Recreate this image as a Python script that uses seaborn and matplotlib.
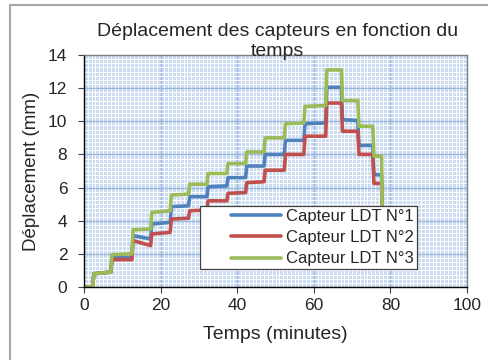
import numpy as np
import pandas as pd
import matplotlib
matplotlib.use('Agg')
import matplotlib.pyplot as plt
from matplotlib.patches import Rectangle
import seaborn as sns

# =============================================================================
# DATA
# =============================================================================

# time in minutes: start / end of every loading step
temps = [0, 2.2, 2.6, 7.0, 7.3, 12.5, 12.8, 17.4, 17.7, 22.5, 22.8, 27.3,
         27.6, 32.1, 32.4, 37.3, 37.6, 42.2, 42.5, 47.0, 47.3, 52.3, 52.6,
         57.4, 57.7, 63.1, 63.4, 67.2, 67.5, 71.5, 71.8, 75.4, 75.7, 77.7, 77.9]

ldt1 = [0, 0, 0.8, 0.9, 1.8, 1.75, 3.1, 2.9, 3.8, 3.9, 4.85, 4.9, 5.45, 5.45,
        6.05, 6.1, 6.6, 6.6, 7.3, 7.3, 8.0, 8.0, 8.85, 8.85, 9.85, 9.9, 12.05,
        12.05, 10.1, 10.05, 8.55, 8.55, 6.8, 6.75, 3.0]

ldt2 = [0, 0, 0.8, 0.9, 1.65, 1.65, 2.8, 2.5, 3.2, 3.3, 4.1, 4.15, 4.6, 4.65,
        5.2, 5.2, 5.65, 5.7, 6.3, 6.35, 7.05, 7.05, 8.0, 8.0, 9.1, 9.1, 11.1,
        11.1, 9.4, 9.4, 8.0, 8.0, 6.25, 6.25, 3.0]

ldt3 = [0, 0, 0.8, 0.9, 1.95, 2.0, 3.45, 3.5, 4.5, 4.6, 5.55, 5.6, 6.2, 6.2,
        6.85, 6.85, 7.45, 7.45, 8.15, 8.15, 9.0, 9.0, 9.85, 9.9, 10.9, 10.95,
        13.1, 13.1, 11.25, 11.25, 9.7, 9.7, 7.9, 7.9, 3.0]

series_names = ['Capteur LDT N°1', 'Capteur LDT N°2', 'Capteur LDT N°3']
colors = ['#4F81BD', '#C0504D', '#9BBB59']

x_ticks = [0, 20, 40, 60, 80, 100]
y_ticks = [0, 2, 4, 6, 8, 10, 12, 14]

# long form table for seaborn
df = pd.concat([
    pd.DataFrame({'Temps': temps, 'Deplacement': vals, 'Capteur': name})
    for vals, name in zip([ldt1, ldt2, ldt3], series_names)
], ignore_index=True)

# =============================================================================
# PLOT
# =============================================================================
sns.set_style('white')
plt.rcParams['font.family'] = ['Liberation Sans', 'DejaVu Sans']

fig = plt.figure(figsize=(4.89, 3.6), dpi=100)
ax = fig.add_axes([84 / 489, 73 / 360, 383 / 489, 232 / 360])

# Excel-like patterned plot area
ax.set_facecolor('#cbdbf2')
ax.set_xticks(np.arange(0, 100.1, 1), minor=True)
ax.set_yticks(np.arange(0, 14.01, 0.25), minor=True)
ax.grid(which='minor', color='white', lw=0.7)
ax.grid(which='major', color='#9bb9de', lw=0.9)
ax.tick_params(which='minor', length=0)
ax.set_axisbelow(True)

sns.lineplot(data=df, x='Temps', y='Deplacement', hue='Capteur',
             palette=colors, estimator=None, sort=False, lw=2.6, ax=ax)

ax.set_xlim(0, 100)
ax.set_ylim(0, 14)
ax.set_xticks(x_ticks)
ax.set_yticks(y_ticks)
ax.tick_params(which='major', direction='out', length=4, width=0.8,
               color='#404040', labelsize=12.5)
ax.tick_params(axis='x', bottom=True, pad=4)
ax.tick_params(axis='y', left=True, pad=8)

for side in ['left', 'bottom']:
    ax.spines[side].set_color('black')
    ax.spines[side].set_linewidth(1.0)
for side in ['top', 'right']:
    ax.spines[side].set_color('#808080')
    ax.spines[side].set_linewidth(1.0)

ax.set_xlabel('Temps (minutes)', fontsize=14, labelpad=9)
ax.set_ylabel('Déplacement (mm)', fontsize=13.5, labelpad=6)

fig.text(0.567, 1 - 31 / 360, 'Déplacement des capteurs en fonction du',
         ha='center', va='center', fontsize=14)
fig.text(0.567, 1 - 52 / 360, 'temps', ha='center', va='center', fontsize=14)

# legend box drawn separately so the handles can sit further right
ax.add_patch(Rectangle((0.303, 0.078), 0.566, 0.271, transform=ax.transAxes,
                       facecolor='white', edgecolor='#404040', lw=0.9,
                       zorder=4))
leg = ax.legend(loc='center left', bbox_to_anchor=(0.383, 0.213),
                fontsize=12, frameon=False, handlelength=3.0,
                handletextpad=0.3, labelspacing=0.38, borderpad=0,
                borderaxespad=0)
leg.set_zorder(5)
for line in leg.get_lines():
    line.set_linewidth(2.6)

# outer chart frame
fig.add_artist(Rectangle((10 / 489, -0.1), 1.2, 1.1 - 5 / 360,
                         transform=fig.transFigure, fill=False,
                         edgecolor='#a6a6a6', lw=1.5))

fig.savefig('out.png', dpi=100)
